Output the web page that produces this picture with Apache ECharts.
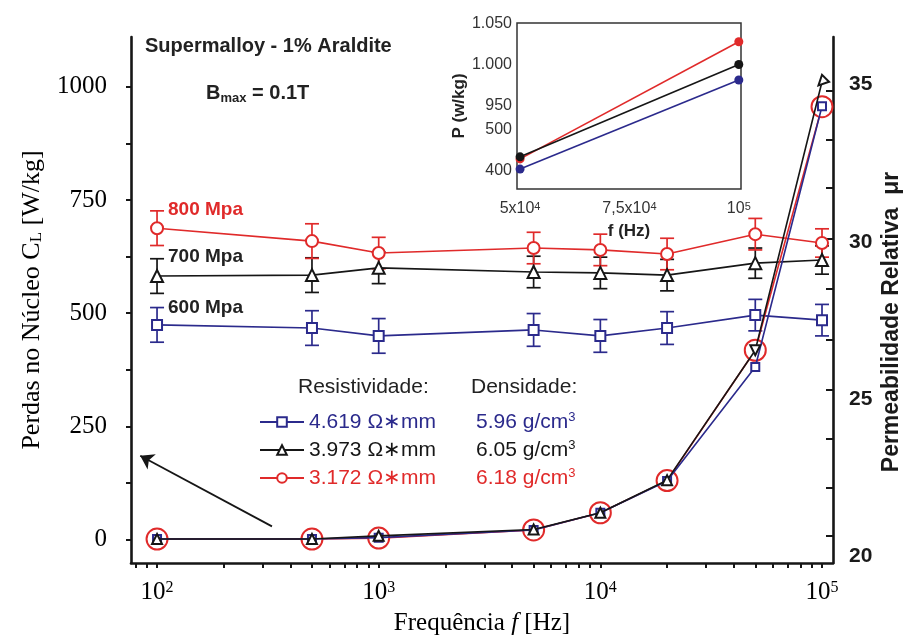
<!DOCTYPE html>
<html>
<head>
<meta charset="utf-8">
<script src="https://cdn.jsdelivr.net/npm/echarts@6/dist/echarts.min.js"></script>
<style>
  html, body { margin: 0; padding: 0; background: #fff; }
  #chart { width: 911px; height: 635px; }
</style>
</head>
<body>
<div id="chart"></div>
<script>
// ---- data -------------------------------------------------------------
const frequencies = [100, 500, 1000, 5000, 10000, 20000, 50000, 100000];

// core loss C_L [W/kg] (left axis)
const lossBlue  = [1, 1, 4, 21, 59, 129, 381, 957];
const lossBlack = [1, 1, 8, 22, 59, 131, 418, 1011];
const lossRed   = [1, 1, 3, 21, 59, 130, 418, 956];

// relative permeability (right axis) with error half-widths
const permBlue  = [27.36, 27.26, 27.01, 27.20, 27.01, 27.26, 27.67, 27.51];
const permBlack = [28.91, 28.94, 29.17, 29.04, 29.01, 28.94, 29.32, 29.42];
const permRed   = [30.43, 30.02, 29.64, 29.80, 29.74, 29.61, 30.24, 29.96];
const errBlue   = [0.55, 0.55, 0.55, 0.52, 0.52, 0.52, 0.5, 0.5];
const errBlack  = [0.55, 0.55, 0.5, 0.5, 0.5, 0.5, 0.48, 0.45];
const errRed    = [0.55, 0.55, 0.5, 0.5, 0.5, 0.5, 0.5, 0.45];

// compaction pressure labels
const pressures = ['800 Mpa', '700 Mpa', '600 Mpa'];

// legend: resistivity and density of each sample
const resistivities = ['4.619', '3.973', '3.172'];
const densities = ['5.96', '6.05', '6.18'];

// inset: loss at the two highest frequencies
const insetFreq  = [50000, 100000];
const insetBlue  = [403, 981];
const insetBlack = [433, 1000];
const insetRed   = [428, 1028];

// axis ticks and labels
const lossTicks  = [0, 125, 250, 375, 500, 625, 750, 875, 1000];
const lossLabels = [0, 250, 500, 750, 1000];
const permLabels = [20, 25, 30, 35];
const permTicks  = [20.65, 22.2, 23.75, 25.3, 26.9, 28.5, 30.1, 31.7, 33.25, 34.8];
const freqLabels = [100, 1000, 10000, 100000];
const insetXLabels = [50000, 75000, 100000];
const insetYLabels = [400, 500, 950, 1000, 1050];

// ---- helpers ----------------------------------------------------------
const SANS = '"Liberation Sans", Arial, sans-serif';
const SERIF = '"Liberation Serif", "Times New Roman", serif';
const RED = '#e02a2a', BLUE = '#2b2a8c', BLACK = '#161616';

// log-axis minor ticks (1..9 per decade) within the visible range
const freqTicks = [];
[10, 100, 1000, 10000, 100000].forEach(d => {
  for (let m = 1; m <= 9; m++) {
    const v = m * d;
    if (v >= 77 && v <= 112000) freqTicks.push(v);
  }
});

// the inset's P axis is broken: 400-500, 500-950 compressed, 950-1050 stretched
const insetAxisUnits = [0, 1, 1.6, 2.6, 3.6];
function insetScale(v) {
  const k = insetYLabels;
  let i = 0;
  while (i < k.length - 2 && v > k[i + 1]) i++;
  const t = (v - k[i]) / (k[i + 1] - k[i]);
  return insetAxisUnits[i] + t * (insetAxisUnits[i + 1] - insetAxisUnits[i]);
}
const withDots = n => String(n).replace(/\B(?=(\d{3})+(?!\d))/g, '.');

const pairs = (xs, ys) => xs.map((x, i) => [x, ys[i]]);
const errRows = (vals, errs) => frequencies.map((f, i) => [f, vals[i] - errs[i], vals[i] + errs[i]]);

const sampleNames = resistivities.map(r => r + ' \u03A9\u2217mm');
const sampleColors = [BLUE, BLACK, RED];

function errorBars(color) {
  return function (params, api) {
    const lo = api.coord([api.value(0), api.value(1)]);
    const hi = api.coord([api.value(0), api.value(2)]);
    const hw = 7;
    const st = { stroke: color, lineWidth: 1.7 };
    return {
      type: 'group',
      children: [
        { type: 'line', shape: { x1: lo[0], y1: lo[1], x2: hi[0], y2: hi[1] }, style: st },
        { type: 'line', shape: { x1: lo[0] - hw, y1: lo[1], x2: lo[0] + hw, y2: lo[1] }, style: st },
        { type: 'line', shape: { x1: hi[0] - hw, y1: hi[1], x2: hi[0] + hw, y2: hi[1] }, style: st }
      ]
    };
  };
}

function permSeries(name, vals, color, symbol, size) {
  return {
    name, type: 'line', xAxisIndex: 0, yAxisIndex: 1,
    data: pairs(frequencies, vals),
    symbol, symbolSize: size, showSymbol: true,
    lineStyle: { color, width: 1.6 },
    itemStyle: { color, borderColor: color, borderWidth: 1.6 },
    z: 4, animation: false
  };
}
function errSeries(vals, errs, color) {
  return {
    name: 'err', type: 'custom', xAxisIndex: 0, yAxisIndex: 1,
    data: errRows(vals, errs),
    encode: { x: 0, y: [1, 2] },
    renderItem: errorBars(color),
    z: 3, silent: true, animation: false
  };
}
function insetSeries(vals, color, z) {
  return {
    type: 'line', xAxisIndex: 1, yAxisIndex: 2,
    data: insetFreq.map((f, i) => [f, insetScale(vals[i])]),
    symbol: 'circle', symbolSize: 9,
    lineStyle: { color, width: 1.6 },
    itemStyle: { color },
    z, animation: false
  };
}

const supRich = {
  b: { fontFamily: SERIF, fontSize: 25, color: '#000' },
  s: { fontFamily: SERIF, fontSize: 16, color: '#000', verticalAlign: 'top', lineHeight: 22 }
};

const legendRich = {};
sampleColors.forEach((c, i) => {
  legendRich['a' + i] = { fontFamily: SANS, fontSize: 21, color: c, width: 167 };
  legendRich['d' + i] = { fontFamily: SANS, fontSize: 21, color: c };
  legendRich['s' + i] = { fontFamily: SANS, fontSize: 13, color: c, verticalAlign: 'top', lineHeight: 22 };
});

const chart = echarts.init(document.getElementById('chart'), null, { renderer: 'canvas' });

chart.setOption({
  backgroundColor: '#fff',
  animation: false,
  grid: [
    { left: 131, right: 78, top: 37, bottom: 72, containLabel: false, outerBoundsMode: 'none' },
    { left: 517, right: 170, top: 23, bottom: 446, containLabel: false, outerBoundsMode: 'none',
      show: true, borderColor: '#333', borderWidth: 1.5, backgroundColor: 'transparent', z: 5 }
  ],
  xAxis: [
    {
      type: 'log', gridIndex: 0, min: 76.3, max: 112100, logBase: 10,
      axisLine: { show: true, onZero: false, lineStyle: { color: BLACK, width: 2.6 } },
      axisTick: { show: true, inside: false, length: 5, customValues: freqTicks, lineStyle: { color: BLACK, width: 2 } },
      minorTick: { show: false },
      splitLine: { show: false },
      axisLabel: {
        customValues: freqLabels, margin: 17,
        formatter: v => '{b|10}{s|' + Math.round(Math.log10(v)) + '}',
        rich: supRich
      },
      name: 'Frequência {i|f} [Hz]', nameLocation: 'middle', nameGap: 48,
      nameTextStyle: {
        fontFamily: SERIF, fontSize: 25, color: '#000',
        rich: { i: { fontFamily: SERIF, fontSize: 25, fontStyle: 'italic', color: '#000' } }
      }
    },
    {
      type: 'value', gridIndex: 1, min: 49300, max: 100500,
      axisLine: { show: false, onZero: false }, axisTick: { show: false }, splitLine: { show: false },
      axisLabel: {
        customValues: insetXLabels, margin: 12, color: '#333', fontFamily: SANS, fontSize: 16,
        formatter: v => v === 100000 ? '10{s|5}' : (v === 75000 ? '7,5x10{s|4}' : '5x10{s|4}'),
        rich: { s: { fontFamily: SANS, fontSize: 11, color: '#333', verticalAlign: 'top', lineHeight: 16 } }
      },
      name: 'f (Hz)', nameLocation: 'middle', nameGap: 34,
      nameTextStyle: { fontFamily: SANS, fontSize: 17, fontWeight: 'bold', color: '#222' }
    }
  ],
  yAxis: [
    {
      type: 'value', gridIndex: 0, min: -52, max: 1110, position: 'left',
      axisLine: { show: true, onZero: false, lineStyle: { color: BLACK, width: 2.6 } },
      axisTick: { show: true, inside: false, length: 5, customValues: lossTicks, lineStyle: { color: BLACK, width: 2 } },
      splitLine: { show: false },
      axisLabel: { customValues: lossLabels, margin: 24, fontFamily: SERIF, fontSize: 25, color: '#000', formatter: v => String(v) },
      name: 'Perdas no Núcleo C{sub|L} [W/kg]', nameLocation: 'middle', nameGap: 86, nameRotate: 90,
      nameTextStyle: {
        fontFamily: SERIF, fontSize: 26, color: '#000',
        rich: { sub: { fontFamily: SERIF, fontSize: 17, color: '#000', verticalAlign: 'bottom', lineHeight: 26 } }
      }
    },
    {
      type: 'value', gridIndex: 0, min: 19.8, max: 36.5, position: 'right',
      axisLine: { show: true, onZero: false, lineStyle: { color: BLACK, width: 2.6 } },
      axisTick: { show: true, inside: true, length: 7, customValues: permTicks, lineStyle: { color: BLACK, width: 2 } },
      splitLine: { show: false },
      axisLabel: { customValues: permLabels, margin: 16, fontFamily: SANS, fontSize: 21, fontWeight: 'bold', color: '#1a1a1a' }
    },
    {
      type: 'value', gridIndex: 1, min: -0.46, max: 3.62,
      axisLine: { show: false, onZero: false }, axisTick: { show: false }, splitLine: { show: false },
      axisLabel: {
        customValues: insetYLabels.map(insetScale), margin: 5, color: '#333', fontFamily: SANS, fontSize: 16,
        formatter: v => {
          const hit = insetYLabels.find(k => Math.abs(insetScale(k) - v) < 1e-6);
          return hit === undefined ? '' : withDots(hit);
        }
      },
      name: 'P (w/kg)', nameLocation: 'middle', nameGap: 44, nameRotate: 90,
      nameTextStyle: { fontFamily: SANS, fontSize: 17, fontWeight: 'bold', color: '#222' }
    }
  ],
  legend: {
    orient: 'vertical', left: 254, top: 406,
    itemWidth: 44, itemHeight: 12, itemGap: 6,
    data: sampleNames.map(n => ({ name: n })),
    selectedMode: false,
    formatter: name => {
      const i = sampleNames.indexOf(name);
      return '{a' + i + '|' + name + '}{d' + i + '|' + densities[i] + ' g/cm}{s' + i + '|3}';
    },
    textStyle: { fontFamily: SANS, fontSize: 21, lineHeight: 22, rich: legendRich }
  },
  graphic: [
    { type: 'text', x: 145, y: 46, style: { text: 'Supermalloy - 1% Araldite', font: 'bold 20px ' + SANS, fill: '#222', verticalAlign: 'middle' } },
    {
      type: 'text', x: 206, y: 93,
      style: {
        text: '{b|B}{m|max}{b| = 0.1T}', verticalAlign: 'middle',
        rich: {
          b: { fontFamily: SANS, fontSize: 20, fontWeight: 'bold', fill: '#222' },
          m: { fontFamily: SANS, fontSize: 13, fontWeight: 'bold', fill: '#222', verticalAlign: 'bottom', padding: [10, 0, 0, 0] }
        }
      }
    },
    { type: 'text', x: 168, y: 210, style: { text: pressures[0], font: 'bold 19px ' + SANS, fill: RED, verticalAlign: 'middle' } },
    { type: 'text', x: 168, y: 257, style: { text: pressures[1], font: 'bold 19px ' + SANS, fill: '#222', verticalAlign: 'middle' } },
    { type: 'text', x: 168, y: 308, style: { text: pressures[2], font: 'bold 19px ' + SANS, fill: '#222', verticalAlign: 'middle' } },
    { type: 'text', x: 298, y: 387, style: { text: 'Resistividade:', font: '21px ' + SANS, fill: '#222', verticalAlign: 'middle' } },
    { type: 'text', x: 471, y: 387, style: { text: 'Densidade:', font: '21px ' + SANS, fill: '#222', verticalAlign: 'middle' } },
    // right axis title
    {
      type: 'text', x: 892, y: 322, rotation: Math.PI / 2,
      style: { text: 'Permeabilidade Relativa  \u03BCr', font: 'bold 23px ' + SANS, fill: '#1a1a1a', align: 'center', verticalAlign: 'middle' }
    }
  ],
  series: [
    // relative permeability (right axis) with error bars
    errSeries(permBlue, errBlue, BLUE),
    errSeries(permBlack, errBlack, BLACK),
    errSeries(permRed, errRed, RED),
    permSeries(sampleNames[0], permBlue, BLUE, 'emptyRect', 10),
    permSeries(sampleNames[1], permBlack, BLACK, 'emptyTriangle', 12),
    permSeries(sampleNames[2], permRed, RED, 'emptyCircle', 12),
    // core loss (left axis)
    {
      name: sampleNames[2], type: 'line', xAxisIndex: 0, yAxisIndex: 0,
      data: pairs(frequencies, lossRed),
      symbol: 'emptyCircle', symbolSize: 21,
      lineStyle: { color: RED, width: 1.6 },
      itemStyle: { color: RED, borderColor: RED, borderWidth: 1.8 },
      z: 5, animation: false
    },
    {
      name: sampleNames[0], type: 'line', xAxisIndex: 0, yAxisIndex: 0,
      data: pairs(frequencies, lossBlue),
      symbol: 'emptyRect', symbolSize: 8,
      lineStyle: { color: BLUE, width: 1.6 },
      itemStyle: { color: BLUE, borderColor: BLUE, borderWidth: 1.6 },
      z: 6, animation: false
    },
    {
      name: sampleNames[1], type: 'line', xAxisIndex: 0, yAxisIndex: 0,
      data: pairs(frequencies, lossBlack),
      symbol: 'emptyTriangle', symbolSize: 10,
      symbolRotate: (v, p) => (p.dataIndex === 6 ? 180 : (p.dataIndex === 7 ? 135 : 0)),
      lineStyle: { color: BLACK, width: 1.6 },
      itemStyle: { color: BLACK, borderColor: BLACK, borderWidth: 1.6 },
      z: 7, animation: false,
      markLine: {
        silent: true, symbol: ['none', 'arrow'], symbolSize: 13,
        label: { show: false },
        lineStyle: { color: BLACK, width: 1.8, type: 'solid' },
        data: [[{ coord: [330, 29] }, { coord: [84, 185] }]]
      }
    },
    // inset
    insetSeries(insetRed, RED, 10),
    insetSeries(insetBlue, BLUE, 11),
    insetSeries(insetBlack, BLACK, 12)
  ]
});
</script>
</body>
</html>
